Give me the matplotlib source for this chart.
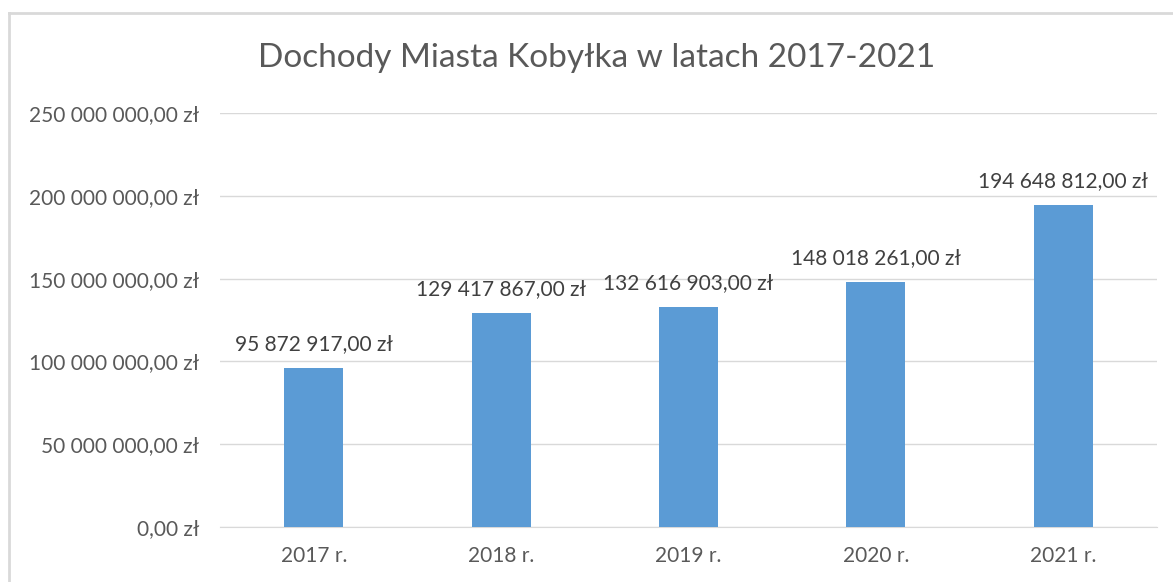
import matplotlib.pyplot as plt
from matplotlib.lines import Line2D
from matplotlib.ticker import FuncFormatter

years = ["2017 r.", "2018 r.", "2019 r.", "2020 r.", "2021 r."]
dochody = [95872917.00, 129417867.00, 132616903.00, 148018261.00, 194648812.00]
y_ticks = [0, 50e6, 100e6, 150e6, 200e6, 250e6]

plt.rcParams['font.family'] = ['Lato', 'DejaVu Sans']

def zl(v, pos=None):
    whole = f"{v:,.2f}".replace(",", " ").replace(".", ",")
    return whole + " zł"

fig = plt.figure(figsize=(11.73, 5.82), dpi=100)
ax = fig.add_axes([220/1173, 1 - 527/582, (1157 - 220)/1173, (527 - 113)/582])

x = range(len(years))
ax.bar(x, dochody, width=0.315, color='#5b9bd5', zorder=3)
for i, v in zip(x, dochody):
    ax.text(i, v + 14.5e6, zl(v), ha='center', va='center', fontsize=15, color='#404040')

ax.set_xlim(-0.5, len(years) - 0.5)
ax.set_ylim(0, 250e6)
ax.set_yticks(y_ticks)
ax.yaxis.set_major_formatter(FuncFormatter(zl))
ax.set_xticks(list(x))
ax.set_xticklabels(years)
ax.tick_params(axis='both', length=0, labelsize=15, colors='#595959')
ax.tick_params(axis='y', pad=15)
ax.tick_params(axis='x', pad=14)
ax.grid(axis='y', color='#d9d9d9', linewidth=1, zorder=0)
for s in ['top', 'right', 'left']:
    ax.spines[s].set_visible(False)
ax.spines['bottom'].set_color('#d9d9d9')

fig.text(597/1173, 1 - 58/582, "Dochody Miasta Kobyłka w latach 2017-2021",
         ha='center', va='center', fontsize=24, color='#595959')

# outer chart border (only top and left visible in crop)
fig.add_artist(Line2D([9/1173, 9/1173], [0, 1 - 13/582], color='#d9d9d9', lw=2))
fig.add_artist(Line2D([9/1173, 1], [1 - 13/582, 1 - 13/582], color='#d9d9d9', lw=2))

fig.savefig("out.png", dpi=100)
